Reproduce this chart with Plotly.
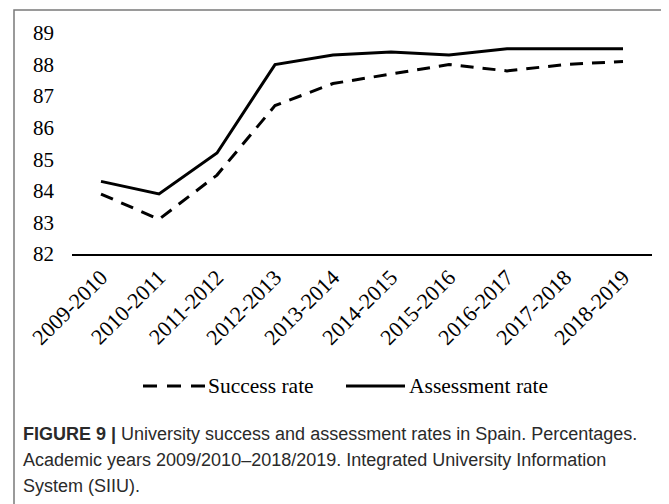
import plotly.graph_objects as go

years = ["2009-2010", "2010-2011", "2011-2012", "2012-2013", "2013-2014",
         "2014-2015", "2015-2016", "2016-2017", "2017-2018", "2018-2019"]
success_rate = [83.9, 83.1, 84.5, 86.7, 87.4, 87.7, 88.0, 87.8, 88.0, 88.1]
assessment_rate = [84.3, 83.9, 85.2, 88.0, 88.3, 88.4, 88.3, 88.5, 88.5, 88.5]
y_ticks = [82, 83, 84, 85, 86, 87, 88, 89]

# page has an 8px body margin: figure coords = page coords - 8
OFF = 8
W, H = 661, 496
L, R, T, B = 64, 17, 25, 250
PW, PH = W - L - R, H - T - B

def px(x):
    return (x - OFF - L) / PW

def py(y):
    return (H - B - (y - OFF)) / PH

SERIF = "Liberation Serif"
SANS = "Liberation Sans"
DASH = "13px,9px"

fig = go.Figure()
fig.add_trace(go.Scatter(x=years, y=success_rate, mode="lines", name="Success rate",
                         line=dict(color="black", width=3, dash=DASH),
                         showlegend=False))
fig.add_trace(go.Scatter(x=years, y=assessment_rate, mode="lines", name="Assessment rate",
                         line=dict(color="black", width=3),
                         showlegend=False))

shapes = [
    dict(type="rect", xref="paper", yref="paper", x0=px(14), x1=px(667), y0=py(10), y1=py(540),
         line=dict(color="#7a7a7a", width=1.5), layer="above"),
    dict(type="line", xref="paper", yref="paper", x0=px(143), x1=px(205), y0=py(386), y1=py(386),
         line=dict(color="black", width=3, dash="14px,10px")),
    dict(type="line", xref="paper", yref="paper", x0=px(346), x1=px(405), y0=py(386), y1=py(386),
         line=dict(color="black", width=3)),
]

annotations = [
    dict(text="Success rate", xref="paper", yref="paper", x=px(206), y=py(386),
         xanchor="left", yanchor="middle", showarrow=False,
         font=dict(family=SERIF, size=21.5, color="black")),
    dict(text="Assessment rate", xref="paper", yref="paper", x=px(407), y=py(386),
         xanchor="left", yanchor="middle", showarrow=False,
         font=dict(family=SERIF, size=21.5, color="black")),
]
caption = [
    "<b>FIGURE 9 |</b> University success and assessment rates in Spain. Percentages.",
    "Academic years 2009/2010\u20132018/2019. Integrated University Information",
    "System (SIIU).",
]
for i, line in enumerate(caption):
    annotations.append(dict(text=line, xref="paper", yref="paper", x=px(21), y=py(434 + 26 * i),
                            xanchor="left", yanchor="middle", showarrow=False, align="left",
                            font=dict(family=SANS, size=18, color="#2a2a2a")))

fig.update_layout(
    width=W, height=H,
    margin=dict(l=L, r=R, t=T, b=B),
    paper_bgcolor="white", plot_bgcolor="white",
    shapes=shapes, annotations=annotations,
    xaxis=dict(type="category", range=[-0.5, 9.5], tickangle=-45, showgrid=False,
               showline=True, linecolor="black", linewidth=1.5, ticks="",
               tickfont=dict(family=SERIF, size=22, color="black")),
    yaxis=dict(range=[82, 89], tickvals=y_ticks, showgrid=False, zeroline=False,
               showline=False, ticks="", ticklabelstandoff=17,
               tickfont=dict(family=SERIF, size=21, color="black")),
)

fig.write_html("out.html")
